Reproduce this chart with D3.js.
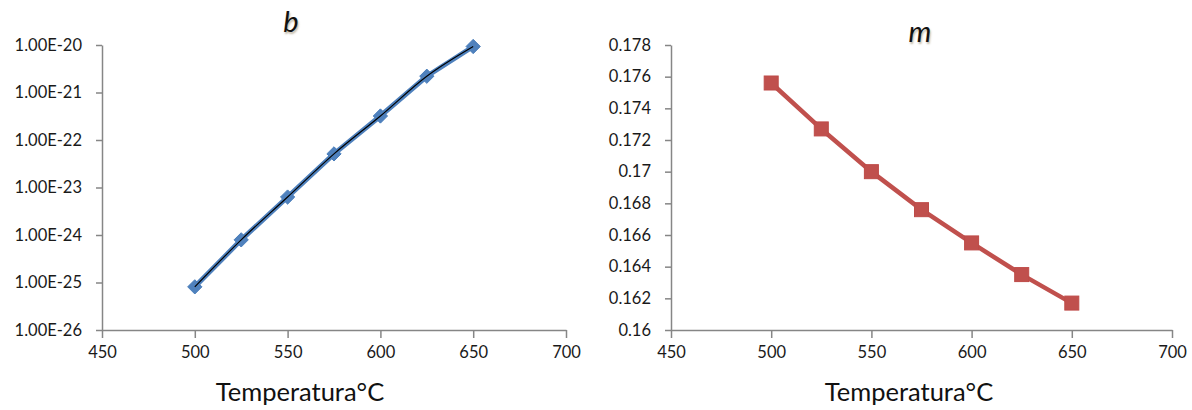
<!DOCTYPE html>
<html><head><meta charset="utf-8">
<script src="https://cdn.jsdelivr.net/npm/d3@7"></script>
<style>
html,body{margin:0;padding:0;background:#fff;}
svg{display:block;}
text{font-family:Lato,"Open Sans",sans-serif;}
</style></head>
<body><svg id="c" width="1192" height="410"></svg>
<script>
const temps = [500, 525, 550, 575, 600, 625, 650];
const bValues = [8.1e-26, 7.9e-25, 6.3e-24, 5.1e-23, 3.2e-22, 2.2e-21, 9.3e-21];
const mValues = [0.1756, 0.1727, 0.1700, 0.1676, 0.1655, 0.1635, 0.1617];
const xTicks = [450, 500, 550, 600, 650, 700];
const bTicks = [1e-26, 1e-25, 1e-24, 1e-23, 1e-22, 1e-21, 1e-20];
const mTicks = [0.16, 0.162, 0.164, 0.166, 0.168, 0.17, 0.172, 0.174, 0.176, 0.178];
const xTitle = "Temperatura°C";

const svg = d3.select("#c");
const plotTop = 45, plotBottom = 330;

function axes(g, x, y, yTicks, yFmt) {
  const xa = g.append("g").attr("transform", `translate(0,${plotBottom})`)
    .call(d3.axisBottom(x).tickValues(xTicks).tickSize(6).tickSizeOuter(0).tickFormat(d3.format("d")));
  const ya = g.append("g").attr("transform", `translate(${x.range()[0]},0)`)
    .call(d3.axisLeft(y).tickValues(yTicks).tickSize(6).tickSizeOuter(0).tickFormat(yFmt));
  [xa, ya].forEach(a => {
    a.select(".domain").attr("stroke", "#868686").attr("stroke-width", 1.5);
    a.selectAll(".tick line").attr("stroke", "#868686").attr("stroke-width", 1.5);
    a.selectAll("text").attr("fill", "#1a1a1a").attr("font-size", 16.5).attr("font-family", "Lato, 'Open Sans', sans-serif");
  });
  xa.selectAll(".tick line").attr("y2", 8).attr("y1", 0);
  xa.selectAll("text").attr("y", 16);
  ya.selectAll("text").attr("x", -20);
}

// Left chart: b
{
  const g = svg.append("g");
  const x = d3.scaleLinear().domain([450, 700]).range([102, 566]);
  const y = d3.scaleLog().domain([1e-26, 1e-20]).range([plotBottom, plotTop]);
  axes(g, x, y, bTicks, d => "1.00E" + Math.round(Math.log10(d)));
  const line = d3.line().x((d, i) => x(temps[i])).y(d => y(d));
  g.append("path").datum(bValues).attr("d", line).attr("fill", "none")
    .attr("stroke", "#4F81BD").attr("stroke-width", 5).attr("stroke-linejoin", "round");
  g.selectAll(".mk").data(bValues).join("path")
    .attr("transform", (d, i) => `translate(${x(temps[i])},${y(d)})`)
    .attr("d", d3.symbol(d3.symbolDiamond2, 130))
    .attr("fill", "#4F81BD").attr("stroke", "#4A7EBB").attr("stroke-width", 1);
  g.append("path").datum(bValues)
    .attr("d", d3.line().x((d, i) => x(temps[i])).y(d => y(d)).curve(d3.curveMonotoneX))
    .attr("fill", "none").attr("stroke", "#000").attr("stroke-width", 1.2);
  g.append("text").attr("x", 291).attr("y", 32).attr("text-anchor", "middle")
    .attr("font-size", 29).attr("font-style", "italic")
    .attr("fill", "#111").style("text-shadow", "1px 2px 2px rgba(120,100,60,0.45)").text("b");
  g.append("text").attr("x", 300).attr("y", 401).attr("text-anchor", "middle")
    .attr("font-size", 25.5).attr("fill", "#111").text(xTitle);
}

// Right chart: m
{
  const g = svg.append("g");
  const x = d3.scaleLinear().domain([450, 700]).range([671, 1172]);
  const y = d3.scaleLinear().domain([0.16, 0.178]).range([plotBottom, plotTop]);
  axes(g, x, y, mTicks, d => String(+d.toFixed(3)));
  const line = d3.line().x((d, i) => x(temps[i])).y(d => y(d));
  g.append("path").datum(mValues).attr("d", line).attr("fill", "none")
    .attr("stroke", "#C0504D").attr("stroke-width", 4.5).attr("stroke-linejoin", "round");
  g.selectAll(".mk").data(mValues).join("rect")
    .attr("x", (d, i) => x(temps[i]) - 7).attr("y", d => y(d) - 7)
    .attr("width", 14).attr("height", 14)
    .attr("fill", "#C0504D").attr("stroke", "#BE4B48").attr("stroke-width", 1);
  g.append("text").attr("x", 920).attr("y", 42).attr("text-anchor", "middle")
    .attr("font-size", 29).attr("font-style", "italic")
    .attr("fill", "#111").style("text-shadow", "1px 2px 2px rgba(120,100,60,0.45)").text("m");
  g.append("text").attr("x", 909).attr("y", 401).attr("text-anchor", "middle")
    .attr("font-size", 25.5).attr("fill", "#111").text(xTitle);
}
</script></body></html>
